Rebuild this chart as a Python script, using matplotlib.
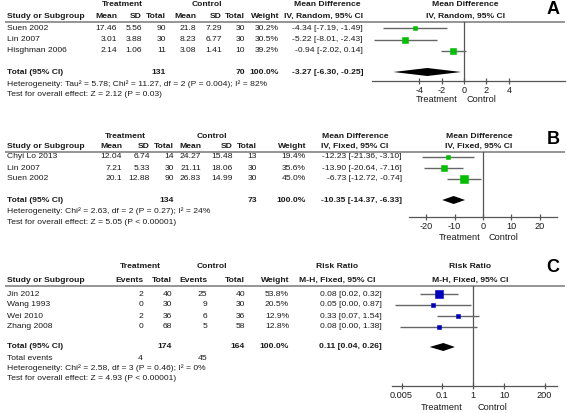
import matplotlib
matplotlib.use('Agg')
import matplotlib.pyplot as plt

plt.rcParams['font.family'] = ['Liberation Sans', 'DejaVu Sans']

# ---------------- data ----------------
# Panel A: mean difference, random effects
a_studies = ['Suen 2002', 'Lin 2007', 'Hisghman 2006']
a_trt_mean = [17.46, 3.01, 2.14]
a_trt_sd = [5.56, 3.88, 1.06]
a_trt_n = [90, 30, 11]
a_ctl_mean = [21.8, 8.23, 3.08]
a_ctl_sd = [7.29, 6.77, 1.41]
a_ctl_n = [30, 30, 10]
a_weight = [30.2, 30.5, 39.2]
a_est = [-4.34, -5.22, -0.94]
a_lo = [-7.19, -8.01, -2.02]
a_hi = [-1.49, -2.43, 0.14]
a_total = [-3.27, -6.30, -0.25]
a_ticks = [-4, -2, 0, 2, 4]

# Panel B: mean difference, fixed effects
b_studies = ['Chyi Lo 2013', 'Lin 2007', 'Suen 2002']
b_trt_mean = [12.04, 7.21, 20.1]
b_trt_sd = [6.74, 5.33, 12.88]
b_trt_n = [14, 30, 90]
b_ctl_mean = [24.27, 21.11, 26.83]
b_ctl_sd = [15.48, 18.06, 14.99]
b_ctl_n = [13, 30, 30]
b_weight = [19.4, 35.6, 45.0]
b_est = [-12.23, -13.90, -6.73]
b_lo = [-21.36, -20.64, -12.72]
b_hi = [-3.10, -7.16, -0.74]
b_total = [-10.35, -14.37, -6.33]
b_ticks = [-20, -10, 0, 10, 20]

# Panel C: risk ratio, fixed effects
c_studies = ['Jin 2012', 'Wang 1993', 'Wei 2010', 'Zhang 2008']
c_trt_ev = [2, 0, 2, 0]
c_trt_n = [40, 30, 36, 68]
c_ctl_ev = [25, 9, 6, 5]
c_ctl_n = [40, 30, 36, 58]
c_weight = [53.8, 20.5, 12.9, 12.8]
c_est = [0.08, 0.05, 0.33, 0.08]
c_lo = [0.02, 0.003, 0.07, 0.0044]
c_hi = [0.32, 0.87, 1.54, 1.38]
c_total = [0.11, 0.04, 0.26]
c_ticks = [0.005, 0.1, 1, 10, 200]
c_tick_labels = ['0.005', '0.1', '1', '10', '200']

# ---------------- layout ----------------
W, H = 567, 413
fig = plt.figure(figsize=(W / 100, H / 100), dpi=100)
bg = fig.add_axes([0, 0, 1, 1])
bg.set_xlim(0, W)
bg.set_ylim(H, 0)
bg.axis('off')

TXT = '#1a1a1a'
FS = 6.1
GREEN = '#00c000'
BLUE = '#0000c0'
LINEC = '#666666'


def t(x, y, s, ha='left', bold=False, size=FS):
    bg.text(x, y, s, ha=ha, va='center', fontsize=size, color=TXT,
            fontweight='bold' if bold else 'normal')


def rule(y):
    bg.plot([5, 565], [y, y], color='#8c8c8c', lw=1.3, solid_capstyle='butt')


def forest(x0, x1, y0, y1, xlim, ticks, labels, log=False):
    ax = fig.add_axes([x0 / W, 1 - y1 / H, (x1 - x0) / W, (y1 - y0) / H])
    ax.patch.set_alpha(0)
    if log:
        ax.set_xscale('log')
    ax.set_xlim(*xlim)
    ax.set_ylim(y1, y0)
    for s in ['top', 'left', 'right']:
        ax.spines[s].set_visible(False)
    ax.spines['bottom'].set_color('#555555')
    ax.spines['bottom'].set_linewidth(0.9)
    ax.set_yticks([])
    ax.set_xticks(ticks)
    ax.set_xticklabels(labels)
    ax.minorticks_off()
    ax.tick_params(axis='x', direction='inout', length=5, width=0.9,
                   color='#555555', labelsize=FS + 0.5, pad=1, labelcolor=TXT)
    ax.axvline(1 if log else 0, color='#555555', lw=0.9)
    return ax


def draw_studies(ax, ys, est, lo, hi, w, color):
    for y, e, l, h, wt in zip(ys, est, lo, hi, w):
        ax.plot([l, h], [y, y], color=LINEC, lw=1.0, solid_capstyle='butt')
        side = max(3.2, 0.165 * wt)  # square side in px, grows with weight
        ax.plot([e], [y], marker='s', color=color, ms=side * 0.72,
                mec=color, mew=0.4)


def diamond(ax, y, tot, half=4.0):
    e, l, h = tot
    ax.fill([l, e, h, e], [y, y - half, y, y + half], color='black', lw=0)


def ci_text(e, l, h):
    return f'{e:.2f} [{l:.2f}, {h:.2f}]'


# ---------------- Panel A ----------------
rows = [28, 39.5, 51]
cols = [117, 142, 166, 196, 222, 245, 279]
t(122, 5, 'Treatment', 'center', True)
t(207, 5, 'Control', 'center', True)
t(327, 5, 'Mean Difference', 'center', True)
t(465, 5, 'Mean Difference', 'center', True)
t(7, 16, 'Study or Subgroup', bold=True)
for x, s in zip(cols, ['Mean', 'SD', 'Total', 'Mean', 'SD', 'Total', 'Weight']):
    t(x, 16, s, 'right', True)
t(323, 16, 'IV, Random, 95% CI', 'center', True)
t(465, 16, 'IV, Random, 95% CI', 'center', True)
bg.text(553, 10, 'A', ha='center', va='center', fontsize=13, fontweight='bold')
rule(21.5)
for i, y in enumerate(rows):
    t(7, y, a_studies[i])
    vals = [a_trt_mean[i], a_trt_sd[i], a_trt_n[i], a_ctl_mean[i], a_ctl_sd[i],
            a_ctl_n[i], f'{a_weight[i]:.1f}%']
    for x, v in zip(cols, vals):
        t(x, y, str(v), 'right')
    t(363, y, ci_text(a_est[i], a_lo[i], a_hi[i]), 'right')
t(7, 72, 'Total (95% CI)', bold=True)
t(166, 72, str(sum(a_trt_n)), 'right', True)
t(245, 72, str(sum(a_ctl_n)), 'right', True)
t(279, 72, '100.0%', 'right', True)
t(363, 72, ci_text(*a_total), 'right', True)
t(7, 84, 'Heterogeneity: Tau\u00b2 = 5.78; Chi\u00b2 = 11.27, df = 2 (P = 0.004); I\u00b2 = 82%')
t(7, 95, 'Test for overall effect: Z = 2.12 (P = 0.03)')
axA = forest(372, 565, 21.5, 81, (-8.2, 9.0), a_ticks, [str(v) for v in a_ticks])
draw_studies(axA, rows, a_est, a_lo, a_hi, a_weight, GREEN)
diamond(axA, 72, a_total)
t(437, 99, 'Treatment', 'center', size=FS + 0.5)
t(481, 99, 'Control', 'center', size=FS + 0.5)

# ---------------- Panel B ----------------
rows = [157, 168, 179]
cols = [122, 150, 174, 201, 233, 257, 306]
t(125, 136, 'Treatment', 'center', True)
t(212, 136, 'Control', 'center', True)
t(355, 136, 'Mean Difference', 'center', True)
t(479, 136, 'Mean Difference', 'center', True)
t(7, 146, 'Study or Subgroup', bold=True)
for x, s in zip(cols, ['Mean', 'SD', 'Total', 'Mean', 'SD', 'Total', 'Weight']):
    t(x, 146, s, 'right', True)
t(355, 146, 'IV, Fixed, 95% CI', 'center', True)
t(479, 146, 'IV, Fixed, 95% CI', 'center', True)
bg.text(553, 140, 'B', ha='center', va='center', fontsize=13, fontweight='bold')
rule(151.5)
for i, y in enumerate(rows):
    t(7, y, b_studies[i])
    vals = [b_trt_mean[i], b_trt_sd[i], b_trt_n[i], b_ctl_mean[i], b_ctl_sd[i],
            b_ctl_n[i], f'{b_weight[i]:.1f}%']
    for x, v in zip(cols, vals):
        t(x, y, str(v), 'right')
    t(402, y, ci_text(b_est[i], b_lo[i], b_hi[i]), 'right')
t(7, 200, 'Total (95% CI)', bold=True)
t(174, 200, str(sum(b_trt_n)), 'right', True)
t(257, 200, str(sum(b_ctl_n)), 'right', True)
t(306, 200, '100.0%', 'right', True)
t(402, 200, ci_text(*b_total), 'right', True)
t(7, 211, 'Heterogeneity: Chi\u00b2 = 2.63, df = 2 (P = 0.27); I\u00b2 = 24%')
t(7, 222, 'Test for overall effect: Z = 5.05 (P < 0.00001)')
axB = forest(409, 557, 151.5, 217, (-26.1, 26.1), b_ticks, [str(v) for v in b_ticks])
draw_studies(axB, rows, b_est, b_lo, b_hi, b_weight, GREEN)
diamond(axB, 200, b_total)
t(460, 237, 'Treatment', 'center', size=FS + 0.5)
t(503, 237, 'Control', 'center', size=FS + 0.5)

# ---------------- Panel C ----------------
rows = [294, 305, 316, 327]
cols = [143, 172, 207, 245, 289]
t(140, 267, 'Treatment', 'center', True)
t(212, 267, 'Control', 'center', True)
t(337, 267, 'Risk Ratio', 'center', True)
t(470, 267, 'Risk Ratio', 'center', True)
t(7, 280, 'Study or Subgroup', bold=True)
for x, s in zip(cols, ['Events', 'Total', 'Events', 'Total', 'Weight']):
    t(x, 280, s, 'right', True)
t(337, 280, 'M-H, Fixed, 95% CI', 'center', True)
t(470, 280, 'M-H, Fixed, 95% CI', 'center', True)
bg.text(553, 268, 'C', ha='center', va='center', fontsize=13, fontweight='bold')
rule(286)
for i, y in enumerate(rows):
    t(7, y, c_studies[i])
    vals = [c_trt_ev[i], c_trt_n[i], c_ctl_ev[i], c_ctl_n[i], f'{c_weight[i]:.1f}%']
    for x, v in zip(cols, vals):
        t(x, y, str(v), 'right')
    t(382, y, ci_text(c_est[i], c_lo[i], c_hi[i]), 'right')
t(7, 347, 'Total (95% CI)', bold=True)
t(172, 347, str(sum(c_trt_n)), 'right', True)
t(245, 347, str(sum(c_ctl_n)), 'right', True)
t(289, 347, '100.0%', 'right', True)
t(382, 347, ci_text(*c_total), 'right', True)
t(7, 358, 'Total events')
t(143, 358, str(sum(c_trt_ev)), 'right')
t(207, 358, str(sum(c_ctl_ev)), 'right')
t(7, 368, 'Heterogeneity: Chi\u00b2 = 2.58, df = 3 (P = 0.46); I\u00b2 = 0%')
t(7, 379, 'Test for overall effect: Z = 4.93 (P < 0.00001)')
axC = forest(392, 557, 286, 386, (10 ** -2.61, 10 ** 2.7), c_ticks, c_tick_labels, log=True)
draw_studies(axC, rows, c_est, c_lo, c_hi, c_weight, BLUE)
diamond(axC, 347, c_total)
t(442, 407, 'Treatment', 'center', size=FS + 0.5)
t(492, 407, 'Control', 'center', size=FS + 0.5)

fig.savefig('out.png', dpi=100)
